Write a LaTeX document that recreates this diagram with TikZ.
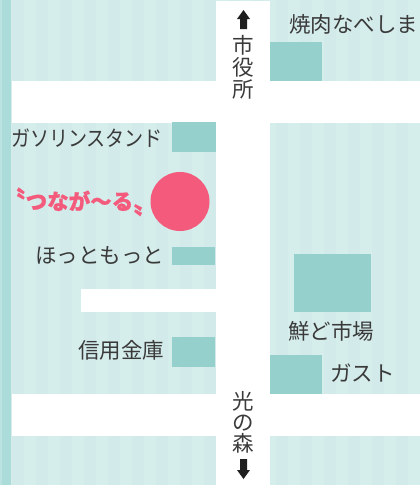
\documentclass[tikz,border=0pt]{standalone}
\usepackage{fontspec}
\setmainfont{Noto Sans CJK JP}
\newfontfamily\jpbold[BoldFeatures={FakeBold=1}]{Noto Sans CJK JP}
\definecolor{ground}{HTML}{D5EDEB}
\definecolor{groundb}{HTML}{D2EBEA}
\definecolor{strip}{HTML}{ABDCDA}
\definecolor{stripb}{HTML}{B9E2E0}
\definecolor{bldg}{HTML}{96D0CC}
\definecolor{pinkc}{HTML}{F45A7C}
\definecolor{inkc}{HTML}{3A3A3A}
\tikzset{
  lbl/.style={inner sep=0pt,outer sep=0pt,text=inkc,font=\fontsize{21.5}{21.5}\selectfont},
  vlbl/.style={lbl,anchor=base},
  roadway/.style={fill=white,draw=none},
  bldgbox/.style={fill=bldg,draw=none},
  arrowblk/.style={fill=black!88,draw=none}
}
\begin{document}
\begin{tikzpicture}[x=1pt,y=-1pt]
\useasboundingbox (0,0) rectangle (420,485);
% ground with faint stripes
\fill[ground] (0,0) rectangle (420,485);
\foreach \x in {12,36,...,420}{\fill[groundb] (\x,0) rectangle ++(12,485);}
% left strip
\fill[strip] (0,0) rectangle (11,485);
\fill[stripb] (0,0) rectangle (2,485);
% roads
\fill[roadway] (12,81) rectangle (420,123);
\fill[roadway] (12,394) rectangle (420,436);
\fill[roadway] (81,289) rectangle (216,312);
\fill[roadway] (216,1) rectangle (270,485);
% buildings
\fill[bldgbox] (172,122) rectangle (216,152);
\fill[bldgbox] (270,42) rectangle (322,81);
\fill[bldgbox] (172,247) rectangle (215,265);
\fill[bldgbox] (172,337) rectangle (215,367);
\fill[bldgbox] (294,254) rectangle (371,312);
\fill[bldgbox] (270,355) rectangle (322,394);
% destination
\fill[pinkc] (180,201.5) circle (29.5);
% labels
\node[lbl,anchor=base east,xscale=.885] (gas) at (163,146.5) {ガソリンスタンド};
\node[lbl,anchor=base west] (yaki) at (289,32.5) {焼肉なべしま};
\node[lbl,anchor=base east] (hot) at (164,263.5) {ほっともっと};
\node[lbl,anchor=base east] (shin) at (164,358.5) {信用金庫};
\node[lbl,anchor=base west] (sen) at (288,339.5) {鮮ど市場};
\node[lbl,anchor=base west] (gusto) at (330,381.5) {ガスト};
% vertical road labels
\node[vlbl] (v1) at (243,53.5) {市};
\node[vlbl] (v2) at (243,75) {役};
\node[vlbl] (v3) at (243,97) {所};
\node[vlbl] (v4) at (243,409) {光};
\node[vlbl] (v5) at (243,430) {の};
\node[vlbl] (v6) at (243,451) {森};
% arrows
\fill[arrowblk] (243.5,10) -- (250,19) -- (247,19) -- (247,29) -- (240,29) -- (240,19) -- (237,19) -- cycle;
\fill[arrowblk] (243.5,479) -- (250,470) -- (247,470) -- (247,459) -- (240,459) -- (240,470) -- (237,470) -- cycle;
% pink text
\node[inner sep=0pt,anchor=base west,text=pinkc,font=\jpbold\bfseries\fontsize{21.5}{21.5}\selectfont] (tsuna) at (4,209.5) {\makebox[21.5pt][r]{\fontsize{25.5}{25.5}\selectfont 〝}つなが〜る\makebox[21.5pt][l]{\raisebox{-4pt}{\fontsize{25.5}{25.5}\selectfont 〟}}};
\end{tikzpicture}
\end{document}
